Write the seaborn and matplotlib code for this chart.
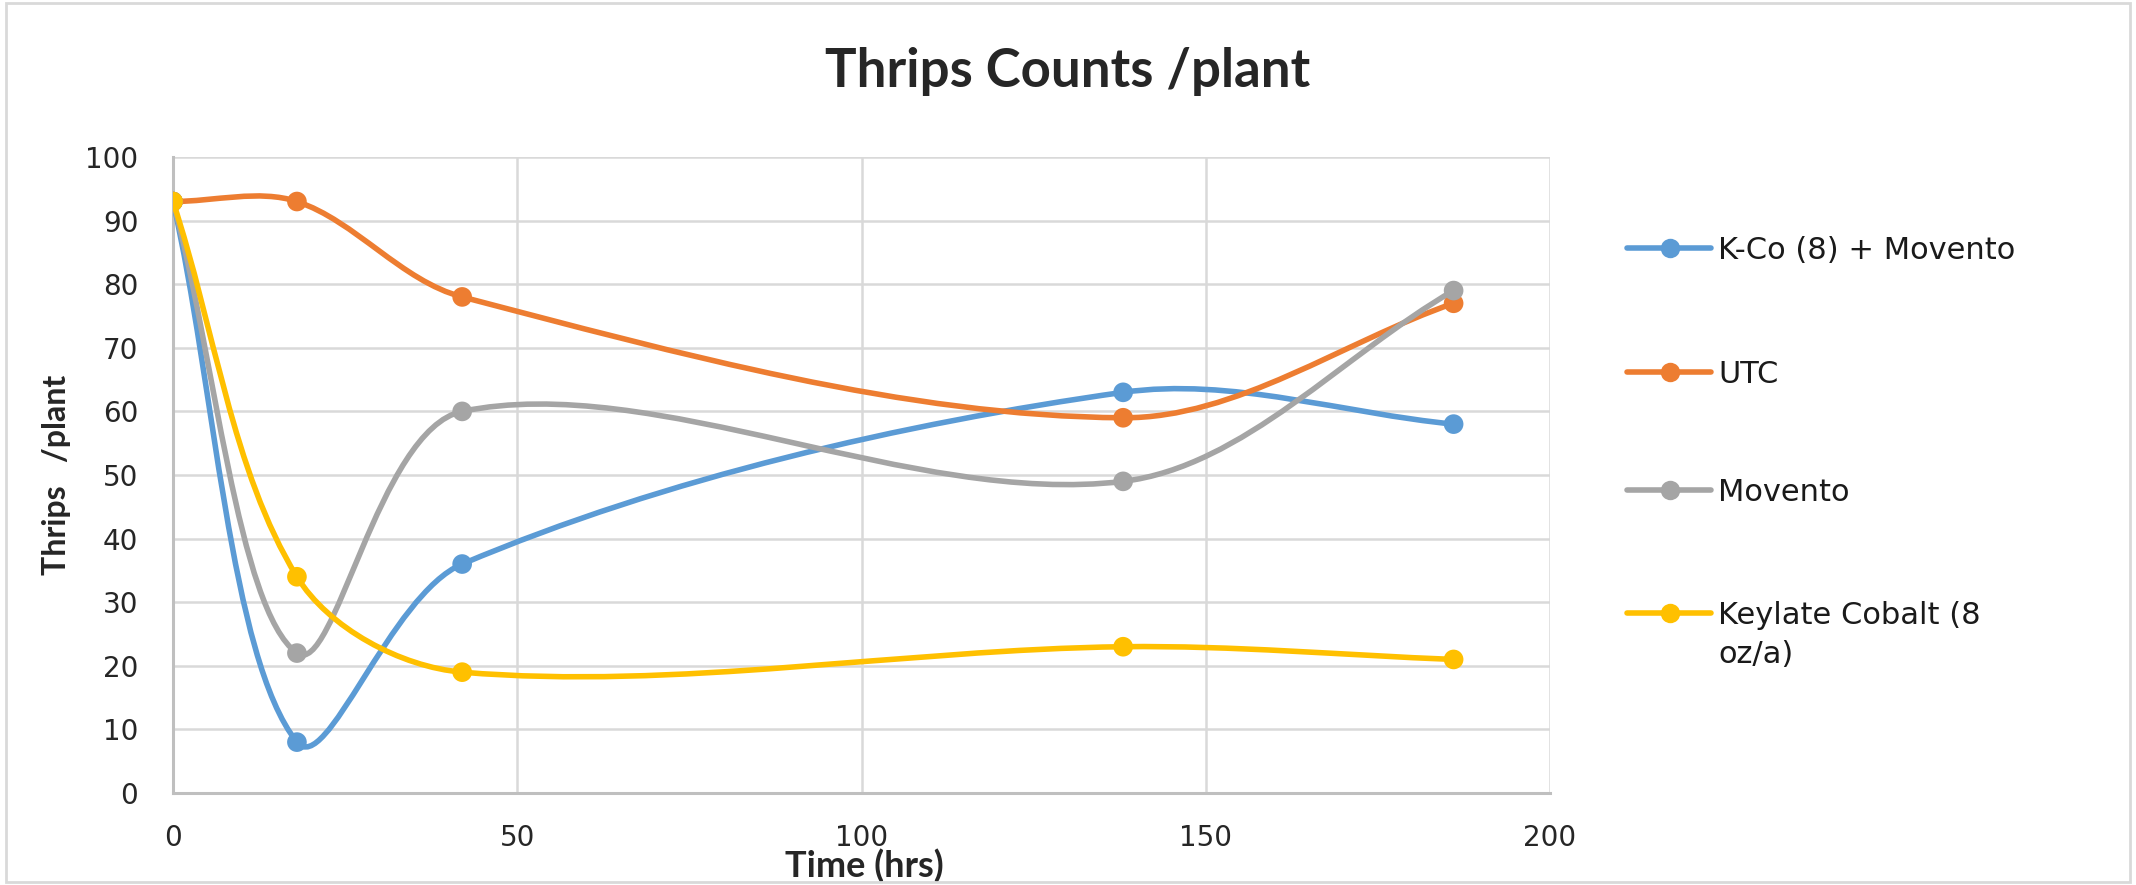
import numpy as np
import pandas as pd
import matplotlib
matplotlib.use("Agg")
import matplotlib.pyplot as plt
import seaborn as sns
from matplotlib.path import Path
from matplotlib.patches import PathPatch, Rectangle
from matplotlib.lines import Line2D

# data
hours = [0, 18, 42, 138, 186]
series_names = ["K-Co (8) + Movento", "UTC", "Movento", "Keylate Cobalt (8\noz/a)"]
kco_movento = [93, 8, 36, 63, 58]
utc = [93, 93, 78, 59, 77]
movento = [93, 22, 60, 49, 79]
keylate = [93, 34, 19, 23, 21]
colors = ["#5B9BD5", "#ED7D31", "#A5A5A5", "#FFC000"]

x_ticks = [0, 50, 100, 150, 200]
y_ticks = list(range(0, 101, 10))

df = pd.DataFrame({
    "Time": hours * 4,
    "Count": kco_movento + utc + movento + keylate,
    "Serie": [n for n in series_names for _ in hours],
})


def smooth_path(xs, ys, sx, sy):
    """Bezier path like Excel's smoothed line (tangents scaled by chord lengths in screen units)."""
    p = np.column_stack([np.asarray(xs, float) * sx, np.asarray(ys, float) * sy])
    n = len(p)
    d = np.linalg.norm(np.diff(p, axis=0), axis=1)
    m = np.zeros_like(p)
    for i in range(n):
        if i == 0:
            m[i] = (p[1] - p[0]) / d[0]
        elif i == n - 1:
            m[i] = (p[-1] - p[-2]) / d[-1]
        else:
            m[i] = (p[i + 1] - p[i - 1]) / (d[i - 1] + d[i])
    verts = [p[0]]
    codes = [Path.MOVETO]
    for i in range(n - 1):
        c1 = p[i] + m[i] * d[i] / 3
        c2 = p[i + 1] - m[i + 1] * d[i] / 3
        verts += [c1, c2, p[i + 1]]
        codes += [Path.CURVE4] * 3
    verts = np.array(verts) / [sx, sy]
    return Path(verts, codes)


sns.set_theme(style="whitegrid")
plt.rcParams["font.family"] = ["DejaVu Sans"]
bold_font = ["Lato", "DejaVu Sans"]

W, H = 2136, 885
fig = plt.figure(figsize=(W / 100, H / 100), dpi=100)
ax = fig.add_axes([173 / W, 1 - 793 / H, 1377 / W, 636 / H])
ax.set_facecolor("white")

# px per data unit, so the smoothing is done in screen space
sx = 1377 / 200
sy = 636 / 100

for k, name in enumerate(series_names):
    sub = df[df["Serie"] == name]
    path = smooth_path(sub["Time"], sub["Count"], sx, sy)
    ax.add_patch(PathPatch(path, facecolor="none", edgecolor=colors[k], lw=4.0,
                           zorder=3 + 2 * k, capstyle="round", joinstyle="round"))
    sns.scatterplot(data=sub, x="Time", y="Count", color=colors[k], s=200,
                    edgecolor="none", ax=ax, zorder=4 + 2 * k, legend=False)

ax.set_xlim(0, 200)
ax.set_ylim(0, 100)
ax.set_xticks(x_ticks)
ax.set_yticks(y_ticks)
ax.grid(True, color="#D9D9D9", lw=1.8)
for s in ["top", "right"]:
    ax.spines[s].set_visible(False)
for s in ["left", "bottom"]:
    ax.spines[s].set_color("#BFBFBF")
    ax.spines[s].set_linewidth(2.2)
ax.tick_params(axis="y", length=9, color="#D9D9D9", width=1.8, labelsize=20,
               labelcolor="#262626", pad=16)
ax.tick_params(axis="x", length=0, labelsize=20, labelcolor="#262626", pad=22)

ax.set_xlabel("Time (hrs)", fontsize=26, fontweight="bold", family=bold_font)
ax.xaxis.set_label_coords(0.502, -0.087)
ax.set_ylabel("Thrips   /plant", fontsize=23, fontweight="bold", family=bold_font)
ax.yaxis.set_label_coords(-0.074, 0.5)
fig.text(0.5, 1 - 87 / H, "Thrips Counts /plant", ha="center", va="baseline",
         fontsize=38, fontweight="bold", family=bold_font)

# legend drawn by hand so the two-line label keeps its marker on the first line
legend_y = [248, 372, 490, 613]
for k, name in enumerate(series_names):
    yf = 1 - legend_y[k] / H
    fig.add_artist(Line2D([1627 / W, 1711 / W], [yf, yf], transform=fig.transFigure,
                          color=colors[k], lw=4.0))
    fig.add_artist(Line2D([1670 / W], [yf], transform=fig.transFigure, color=colors[k],
                          marker="o", markersize=14, markeredgewidth=0))
    for j, line in enumerate(name.split("\n")):
        fig.text(1718 / W, 1 - (legend_y[k] + 11 + 39 * j) / H, line, ha="left",
                 va="baseline", fontsize=22, color="#1a1a1a")

fig.add_artist(Rectangle((0.003, 0.003), 0.994, 0.994, transform=fig.transFigure,
                         fill=False, edgecolor="#D9D9D9", lw=2))

fig.savefig("out.png", dpi=100)
